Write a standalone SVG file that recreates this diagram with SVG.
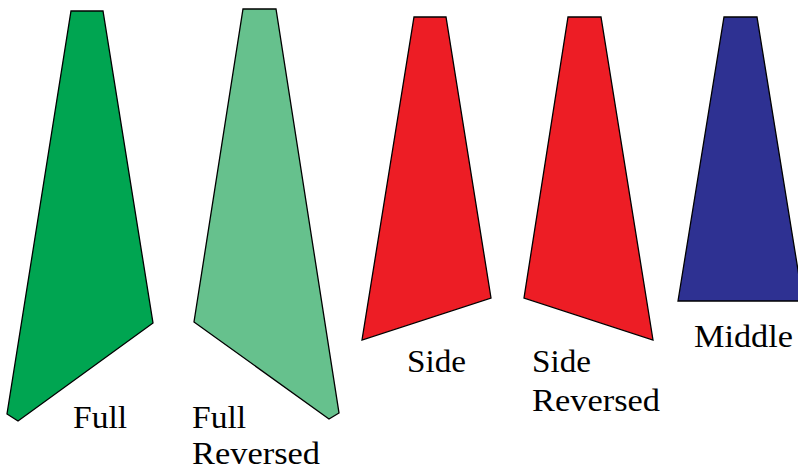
<svg xmlns="http://www.w3.org/2000/svg" width="798" height="470" viewBox="0 0 798 470">
<style>
.s{stroke:#000;stroke-width:1.3;stroke-linejoin:miter}
.t{font-family:"Liberation Serif","Times New Roman",serif;font-size:31px;fill:#000}
</style>
<rect width="798" height="470" fill="#fff"/>
<g id="full">
<polygon class="s" fill="#00A551" points="71,11 103,11 153,323 18,421 7,414"/>
<text class="t" x="73" y="428" textLength="54" lengthAdjust="spacingAndGlyphs">Full</text>
</g>
<g id="full-reversed">
<polygon class="s" fill="#66C18D" points="243,9 276,9 339,413 329,419 194,322"/>
<text class="t" x="192" y="428" textLength="54" lengthAdjust="spacingAndGlyphs">Full</text>
<text class="t" x="192" y="464" textLength="128" lengthAdjust="spacingAndGlyphs">Reversed</text>
</g>
<g id="side">
<polygon class="s" fill="#ED1D25" points="414,17 446,17 491,298 362,340"/>
<text class="t" x="407" y="372" textLength="59" lengthAdjust="spacingAndGlyphs">Side</text>
</g>
<g id="side-reversed">
<polygon class="s" fill="#ED1D25" points="568,17 601,17 653,340 524,298"/>
<text class="t" x="532" y="372" textLength="59" lengthAdjust="spacingAndGlyphs">Side</text>
<text class="t" x="532" y="411" textLength="128" lengthAdjust="spacingAndGlyphs">Reversed</text>
</g>
<g id="middle">
<polygon class="s" fill="#2E3192" points="724,17 757,17 803,301 678,301"/>
<text class="t" x="694" y="347" textLength="99" lengthAdjust="spacingAndGlyphs">Middle</text>
</g>
<g id="connectors"/>
</svg>
